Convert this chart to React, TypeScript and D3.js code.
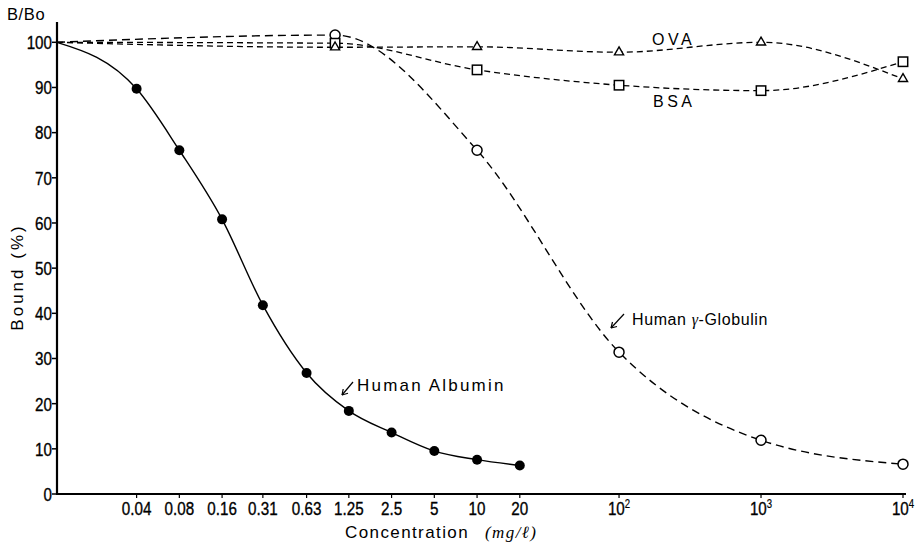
import * as d3 from 'd3';

const WIDTH = 923;
const HEIGHT = 545;

// control tube (no competitor) sits on the y axis
const CONTROL_DOSE = 0.011;

const albuminDose = [0.04, 0.08, 0.16, 0.31, 0.63, 1.25, 2.5, 5, 10, 20];
const albuminBound = [89.7, 76.1, 60.8, 41.8, 26.8, 18.4, 13.6, 9.5, 7.6, 6.3];

const proteinDose = [1, 10, 100, 1000, 10000];
const globulinBound = [101.6, 76.1, 31.4, 11.9, 6.6];
const bsaBound = [99.8, 93.9, 90.5, 89.3, 95.7];
const ovaBound = [98.9, 99.0, 97.8, 100, 91.9];

const xTickValues = [0.04, 0.08, 0.16, 0.31, 0.63, 1.25, 2.5, 5, 10, 20, 100, 1000, 10000];
const xTickLabels = ['0.04', '0.08', '0.16', '0.31', '0.63', '1.25', '2.5', '5', '10', '20', '10^2', '10^3', '10^4'];
const yTickValues = [0, 10, 20, 30, 40, 50, 60, 70, 80, 90, 100];

const TICK_FONT = '"Liberation Sans", Arial, sans-serif';
const LABEL_FONT = '"Liberation Sans", Arial, sans-serif';

type Pt = [number, number];

export default function App() {
  const x = d3.scaleLog().domain([CONTROL_DOSE, 10000]).range([57, 903]);
  const y = d3.scaleLinear().domain([0, 100]).range([494, 42.3]);

  const line = d3
    .line<Pt>()
    .x((d) => x(d[0]))
    .y((d) => y(d[1]))
    .curve(d3.curveMonotoneX);

  const withControl = (dose: number[], vals: number[]): Pt[] => [
    [CONTROL_DOSE, 100],
    ...dose.map((d, i) => [d, vals[i]] as Pt),
  ];

  const albumin = withControl(albuminDose, albuminBound);
  const globulin = withControl(proteinDose, globulinBound);
  const bsa = withControl(proteinDose, bsaBound);
  const ova = withControl(proteinDose, ovaBound);

  const triangle = d3.symbol().type(d3.symbolTriangle).size(36)()!;

  // condensed, slightly heavy numerals like the original print
  const tickText = { fontFamily: TICK_FONT, fontSize: 19, stroke: '#000', strokeWidth: 0.35 };

  return (
    <svg
      width={WIDTH}
      height={HEIGHT}
      style={{ position: 'absolute', left: 0, top: 0, background: '#fff' }}
    >
      {/* axes */}
      <line x1={57} y1={22} x2={57} y2={495} stroke="#000" strokeWidth={2.2} />
      <line x1={56} y1={494} x2={906} y2={494} stroke="#000" strokeWidth={2.2} />
      {yTickValues.map((v) => (
        <g key={v}>
          <line x1={52} x2={57} y1={y(v)} y2={y(v)} stroke="#000" strokeWidth={1.5} />
          <text
            transform={`translate(52,${y(v)}) scale(0.8,1)`}
            dy="0.36em"
            textAnchor="end"
            {...tickText}
          >
            {v}
          </text>
        </g>
      ))}
      {xTickValues.map((v, i) => {
        const lab = xTickLabels[i];
        const sup = lab.includes('^');
        return (
          <g key={v}>
            <line x1={x(v)} x2={x(v)} y1={494} y2={498} stroke="#000" strokeWidth={1.2} />
            <text
              transform={`translate(${x(v)},515) scale(0.8,1)`}
              textAnchor="middle"
              {...tickText}
            >
              {sup ? (
                <>
                  {lab.split('^')[0]}
                  <tspan dy={-7} fontSize={12} strokeWidth={0.2}>
                    {lab.split('^')[1]}
                  </tspan>
                </>
              ) : (
                lab
              )}
            </text>
          </g>
        );
      })}

      {/* axis titles */}
      <text x={7} y={20} fontFamily={LABEL_FONT} fontSize={16.5} letterSpacing={0.6}>
        B/Bo
      </text>
      <text
        transform="translate(23,277) rotate(-90)"
        textAnchor="middle"
        fontFamily={LABEL_FONT}
        fontSize={17}
        letterSpacing={3}
      >
        Bound (%)
      </text>
      <text x={345} y={538} fontFamily={LABEL_FONT} fontSize={17} letterSpacing={1.4}>
        Concentration
        <tspan dx={16} fontStyle="italic" fontFamily="serif">
          (mg/ℓ)
        </tspan>
      </text>

      {/* curves */}
      <path d={line(albumin)!} fill="none" stroke="#000" strokeWidth={1.4} />
      <path d={line(globulin)!} fill="none" stroke="#000" strokeWidth={1.4} strokeDasharray="8,5" />
      <path d={line(bsa)!} fill="none" stroke="#000" strokeWidth={1.3} strokeDasharray="6,4" />
      <path d={line(ova)!} fill="none" stroke="#000" strokeWidth={1.3} strokeDasharray="6,4" />

      {/* markers */}
      {albuminDose.map((d, i) => (
        <circle key={d} cx={x(d)} cy={y(albuminBound[i])} r={5} fill="#000" />
      ))}
      {proteinDose.map((d, i) => (
        <g key={d}>
          <circle cx={x(d)} cy={y(globulinBound[i])} r={5} fill="#fff" stroke="#000" strokeWidth={1.5} />
          <rect
            x={x(d) - 4.7}
            y={y(bsaBound[i]) - 4.7}
            width={9.4}
            height={9.4}
            fill="#fff"
            stroke="#000"
            strokeWidth={1.5}
          />
          <path
            d={triangle}
            transform={`translate(${x(d)},${y(ovaBound[i])})`}
            fill="#fff"
            stroke="#000"
            strokeWidth={1.4}
          />
        </g>
      ))}

      {/* annotations */}
      <text x={652} y={45} fontFamily={LABEL_FONT} fontSize={16} letterSpacing={3.5}>
        OVA
      </text>
      <text x={653} y={107} fontFamily={LABEL_FONT} fontSize={16} letterSpacing={3.5}>
        BSA
      </text>
      <text x={632} y={325} fontFamily={LABEL_FONT} fontSize={16} letterSpacing={0.6}>
        Human <tspan fontStyle="italic" fontFamily="serif">γ</tspan>-Globulin
      </text>
      <line x1={624} y1={314} x2={611} y2={328} stroke="#000" strokeWidth={1.2} />
      <path d="M611,328 l1.5,-6 M611,328 l6,-1.5" stroke="#000" strokeWidth={1.2} fill="none" />
      <text x={357} y={391} fontFamily={LABEL_FONT} fontSize={17} letterSpacing={2.2}>
        Human Albumin
      </text>
      <line x1={353} y1={382} x2={342} y2={395} stroke="#000" strokeWidth={1.2} />
      <path d="M342,395 l1.2,-6 M342,395 l6,-1.8" stroke="#000" strokeWidth={1.2} fill="none" />
    </svg>
  );
}
